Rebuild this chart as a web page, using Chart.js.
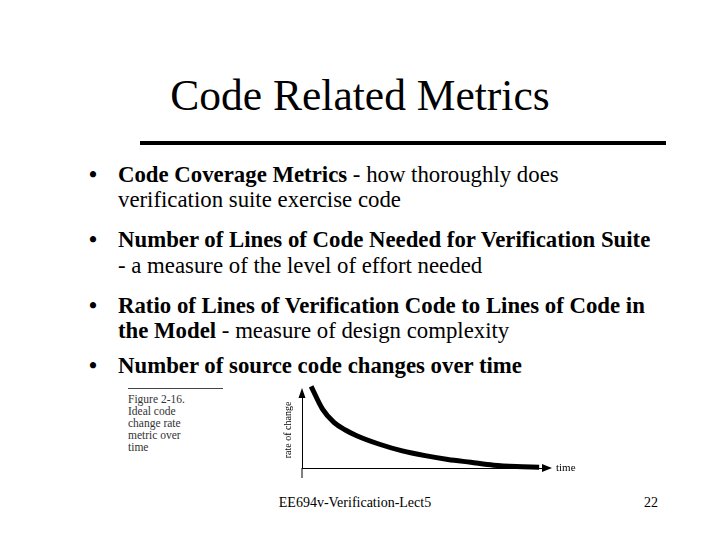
<!DOCTYPE html><html><head><meta charset="utf-8">
<script src="https://cdn.jsdelivr.net/npm/chart.js"></script>
<style>
body{margin:0;width:720px;height:540px;background:#fff;font-family:"Liberation Serif","Times New Roman",serif;position:relative;overflow:hidden}
.t{position:absolute;white-space:nowrap;color:#000;font-size:22.8px;line-height:26px}
#title{left:0;width:720px;text-align:center;top:70px;font-size:43.5px;line-height:50px}
#rule{position:absolute;left:140px;top:141px;width:526px;height:4px;background:#000}
.b{font-weight:bold}
#cap{left:128px;top:393px;font-size:11.5px;line-height:12px;color:#333}
#wrap{position:absolute;left:282px;top:382px;width:300px;height:106px}
</style></head><body>
<div id="title" class="t">Code Related Metrics</div>
<div id="rule"></div>
<div class="t b" style="left:89px;top:162px">•</div><div class="t b" style="left:118px;top:162px">Code Coverage Metrics <span style="font-weight:normal">- how thoroughly does</span></div>
<div class="t" style="left:118px;top:187px">verification suite exercise code</div>
<div class="t b" style="left:89px;top:227px">•</div><div class="t b" style="left:118px;top:227px">Number of Lines of Code Needed for Verification Suite</div>
<div class="t" style="left:118px;top:253px">- a measure of the level of effort needed</div>
<div class="t b" style="left:89px;top:293px">•</div><div class="t b" style="left:118px;top:293px">Ratio of Lines of Verification Code to Lines of Code in</div>
<div class="t b" style="left:118px;top:318px">the Model <span style="font-weight:normal">- measure of design complexity</span></div>
<div class="t b" style="left:89px;top:353px">•</div><div class="t b" style="left:118px;top:353px">Number of source code changes over time</div>
<div style="position:absolute;left:128px;top:388px;width:95px;height:1px;background:#444"></div>
<div id="cap" class="t">Figure 2-16.<br>Ideal code<br>change rate<br>metric over<br>time</div>
<div id="wrap"><canvas id="c"></canvas></div>
<div class="t" style="left:0;width:710px;text-align:center;top:494px;font-size:14px;line-height:18px">EE694v-Verification-Lect5</div>
<div class="t" style="left:644px;top:494px;font-size:14px;line-height:18px">22</div>
<script>
const times=[0,0.5,1,1.5,2,3,4,5,6,7,8,9,10];
const rates=[86,62,48,40,34,25,18,13,9,6,3,1.5,0.8];
const arrows={id:'arrows',afterDraw(ch){const c=ch.ctx,a=ch.chartArea;c.save();c.fillStyle='#000';
c.beginPath();c.moveTo(a.left,a.top-4);c.lineTo(a.left-3.5,a.top+6);c.lineTo(a.left+3.5,a.top+6);c.fill();
c.fillRect(a.left-0.5,a.bottom,1,10);
c.beginPath();c.moveTo(a.right+6,a.bottom);c.lineTo(a.right-4,a.bottom-4);c.lineTo(a.right-4,a.bottom+4);c.fill();
c.font='11px "Liberation Serif"';c.textBaseline='middle';c.fillText('time',a.right+10,a.bottom);c.restore();}};
new Chart(document.getElementById('c'),{type:'line',data:{datasets:[{data:times.map((t,i)=>({x:t,y:rates[i]})),borderColor:'#000',borderWidth:5,pointRadius:0,cubicInterpolationMode:'monotone',fill:false,clip:false}]},
options:{responsive:true,maintainAspectRatio:false,animation:false,layout:{padding:{top:10,right:36,bottom:12}},
plugins:{legend:{display:false},tooltip:{enabled:false}},
scales:{x:{type:'linear',min:-0.4,max:10.3,grid:{display:false},ticks:{display:false},border:{color:'#000',width:1}},
y:{min:0,max:80,grid:{display:false},ticks:{display:false},border:{color:'#000',width:1},title:{display:true,text:'rate of change',font:{size:10,family:'Liberation Serif'},color:'#000',padding:0}}}},
plugins:[arrows]});
</script></body></html>
